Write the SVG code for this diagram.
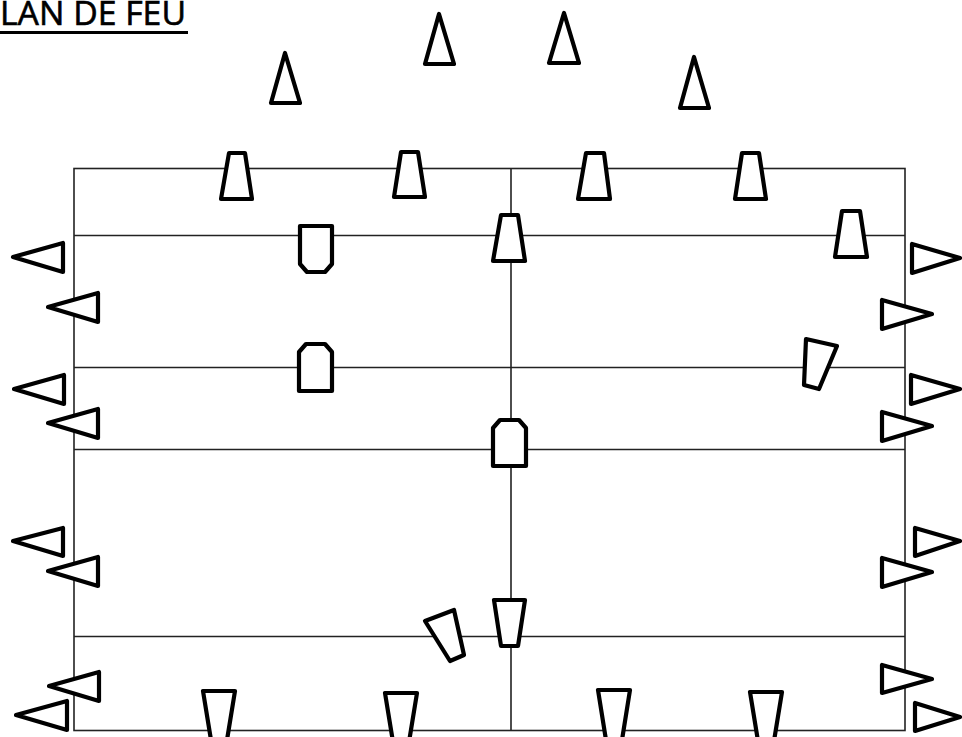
<svg xmlns="http://www.w3.org/2000/svg" width="962" height="737" viewBox="0 0 962 737">
<style>
.m{fill:#fff;stroke:#000;stroke-width:4.2;stroke-linejoin:round}
.l{fill:none;stroke:#222;stroke-width:1.6}
.t{font-family:"Open Sans","Liberation Sans",sans-serif;font-size:33px;fill:#000;stroke:#000;stroke-width:.6}
</style>
<rect width="962" height="737" fill="#fff"/>
<g id="title"><text class="t" x="0" y="25" textLength="186" lengthAdjust="spacingAndGlyphs">LAN DE FEU</text><rect x="0" y="31" width="188" height="3" fill="#000"/></g>
<g id="connectors">
<rect class="l" x="74" y="168.500" width="831" height="562"/>
<path class="l" d="M74 235.500H905M74 367.500H905M74 449.500H905M74 636.500H905M511 168.500V730.500"/>
</g>
<g id="cone-t1"><polygon class="m" points="285,53 300,103 271,103"/></g>
<g id="cone-t2"><polygon class="m" points="439,14 454,64 425,64"/></g>
<g id="cone-t3"><polygon class="m" points="564,13 579,63 549,63"/></g>
<g id="cone-t4"><polygon class="m" points="694,57 709,108 680,108"/></g>
<g id="trap-1"><polygon class="m" points="229,153 245,153 252,199 221,199"/></g>
<g id="trap-2"><polygon class="m" points="401,152 418,152 425,197 394,197"/></g>
<g id="trap-3"><polygon class="m" points="586,153 604,153 610,199 578,199"/></g>
<g id="trap-4"><polygon class="m" points="742,153 759,153 766,199 735,199"/></g>
<g id="trap-5"><polygon class="m" points="501,215 518,215 525,261 493,261"/></g>
<g id="trap-6"><polygon class="m" points="842,211 860,211 867,257 835,257"/></g>
<g id="left-1"><polygon class="m" points="13,257 63,243 63,272"/></g>
<g id="left-2"><polygon class="m" points="48,307 98,293 98,322"/></g>
<g id="left-3"><polygon class="m" points="14,389 64,375 64,404"/></g>
<g id="left-4"><polygon class="m" points="48,423 98,409 98,438"/></g>
<g id="left-5"><polygon class="m" points="13,541 63,528 63,556"/></g>
<g id="left-6"><polygon class="m" points="48,571 98,557 98,586"/></g>
<g id="left-7"><polygon class="m" points="49,686 99,672 99,701"/></g>
<g id="left-8"><polygon class="m" points="16,715 67,701 67,730"/></g>
<g id="right-1"><polygon class="m" points="960,258 912,244 912,273"/></g>
<g id="right-2"><polygon class="m" points="932,314 882,300 882,329"/></g>
<g id="right-3"><polygon class="m" points="960,389 911,375 911,404"/></g>
<g id="right-4"><polygon class="m" points="932,426 882,412 882,441"/></g>
<g id="right-5"><polygon class="m" points="960,541 915,528 915,556"/></g>
<g id="right-6"><polygon class="m" points="932,572 882,558 882,587"/></g>
<g id="right-7"><polygon class="m" points="932,679 882,665 882,693"/></g>
<g id="right-8"><polygon class="m" points="960,717 915,703 915,731"/></g>
<g id="bullet-1"><polygon class="m" points="300,226 332,226 332,264 325,272 307,272 300,264"/></g>
<g id="bullet-2"><polygon class="m" points="299,391 332,391 332,352 325,344 306,344 299,352"/></g>
<g id="bullet-3"><polygon class="m" points="493,466 526,466 526,428 519,420 500,420 493,428"/></g>
<g id="tilt-1"><polygon class="m" points="806,339 837,346 819,389 804,385"/></g>
<g id="tilt-2"><polygon class="m" points="425,621 454,610 464,655 450,661"/></g>
<g id="trap-d1"><polygon class="m" points="494,600 525,600 518,646 501,646"/></g>
<g id="trap-d2"><polygon class="m" points="203,691 235,691 227,740 211,740"/></g>
<g id="trap-d3"><polygon class="m" points="385,693 417,693 409,742 393,742"/></g>
<g id="trap-d4"><polygon class="m" points="598,690 630,690 622,740 606,740"/></g>
<g id="trap-d5"><polygon class="m" points="750,692 782,692 774,741 758,741"/></g>
</svg>
